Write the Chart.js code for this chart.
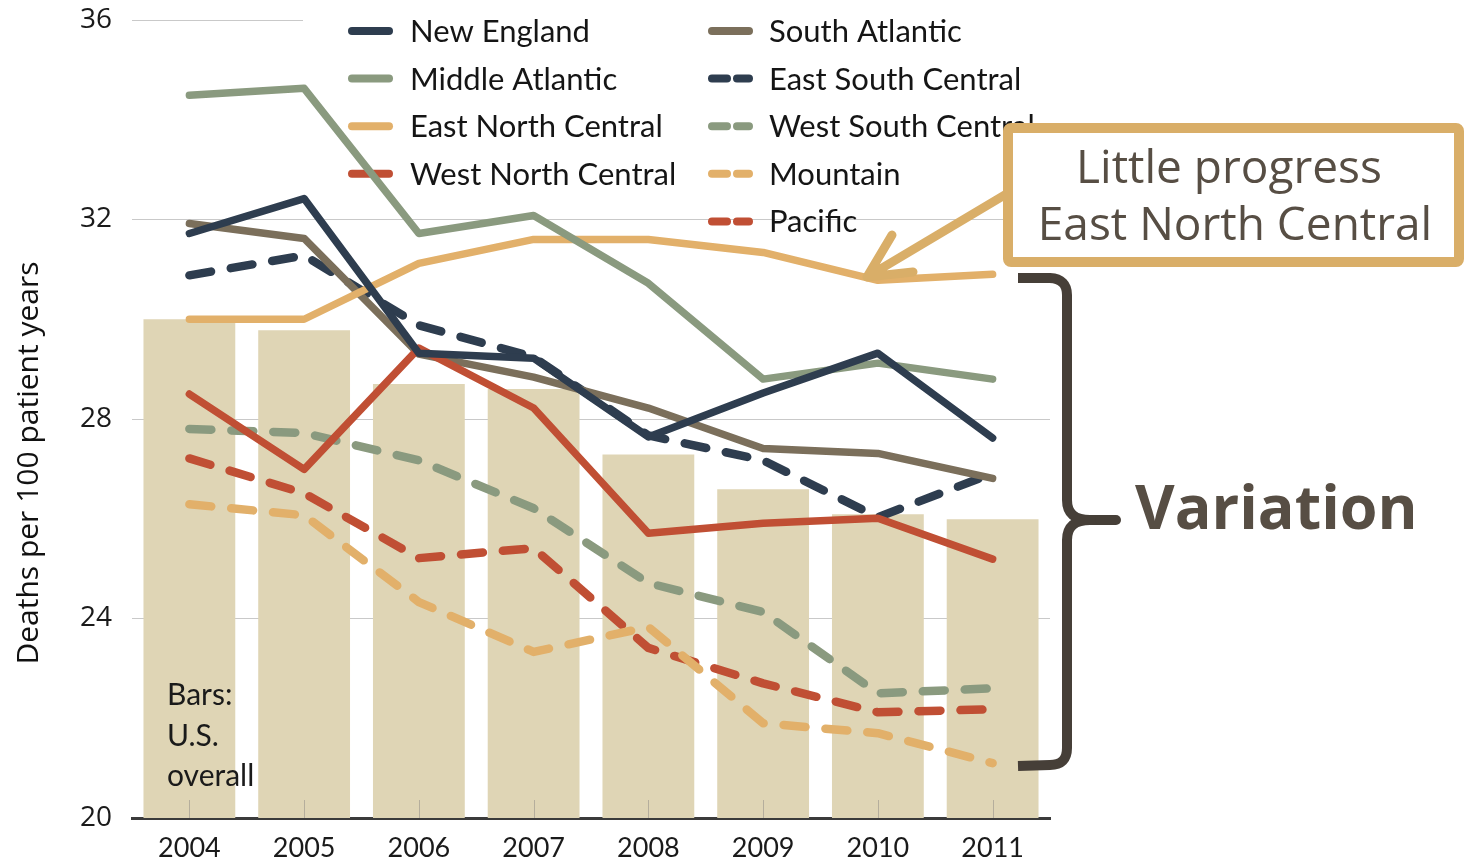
<!DOCTYPE html>
<html>
<head>
<meta charset="utf-8">
<script src="https://cdn.jsdelivr.net/npm/chart.js@4.4.1/dist/chart.umd.min.js"></script>
<style>
    html, body { margin: 0; padding: 0; background: #fff; }
    #wrap { width: 1464px; height: 862px; position: relative; }
</style>
</head>
<body>
<div id="wrap"><canvas id="chart" width="1464" height="862"></canvas></div>
<script>
const YEARS = ['2004', '2005', '2006', '2007', '2008', '2009', '2010', '2011'];
const Y_TICKS = [20, 24, 28, 32, 36];

// bars: U.S. overall
const US_OVERALL = [30.0, 29.78, 28.7, 28.6, 27.29, 26.59, 26.09, 25.99];

const NEW_ENGLAND        = [31.72, 32.42, 29.32, 29.22, 27.64, 28.52, 29.32, 27.62];
const MIDDLE_ATLANTIC    = [34.49, 34.63, 31.72, 32.08, 30.72, 28.8, 29.12, 28.8];
const EAST_NORTH_CENTRAL = [30.0, 30.0, 31.12, 31.6, 31.6, 31.34, 30.78, 30.9];
const WEST_NORTH_CENTRAL = [28.5, 26.99, 29.42, 28.22, 25.71, 25.91, 26.01, 25.19];
const SOUTH_ATLANTIC     = [31.92, 31.62, 29.3, 28.84, 28.22, 27.41, 27.31, 26.81];
const EAST_SOUTH_CENTRAL = [30.88, 31.28, 29.88, 29.24, 27.67, 27.17, 26.03, 26.91];
const WEST_SOUTH_CENTRAL = [27.8, 27.72, 27.17, 26.21, 24.71, 24.13, 22.5, 22.6];
const MOUNTAIN           = [26.29, 26.07, 24.33, 23.33, 23.83, 21.9, 21.7, 21.1];
const PACIFIC            = [27.21, 26.51, 25.21, 25.41, 23.41, 22.7, 22.12, 22.18];

const Y_TITLE = 'Deaths per 100 patient years';

const NAVY = '#2e3d4f';
const SAGE = '#8a9a7f';
const GOLD = '#e2b06a';
const RUST = '#c04f34';
const UMBER = '#7b6f5b';
const BAR_FILL = '#dfd5b5';
const NOTE_GOLD = '#d9ae68';
const NOTE_TEXT = '#574e44';
const BRACE = '#463f38';

const DASH = [22, 20];

const REGIONS = [
    { label: 'New England',        data: NEW_ENGLAND,        color: NAVY,  dashed: false },
    { label: 'Middle Atlantic',    data: MIDDLE_ATLANTIC,    color: SAGE,  dashed: false },
    { label: 'East North Central', data: EAST_NORTH_CENTRAL, color: GOLD,  dashed: false },
    { label: 'West North Central', data: WEST_NORTH_CENTRAL, color: RUST,  dashed: false },
    { label: 'South Atlantic',     data: SOUTH_ATLANTIC,     color: UMBER, dashed: false },
    { label: 'East South Central', data: EAST_SOUTH_CENTRAL, color: NAVY,  dashed: true },
    { label: 'West South Central', data: WEST_SOUTH_CENTRAL, color: SAGE,  dashed: true },
    { label: 'Mountain',           data: MOUNTAIN,           color: GOLD,  dashed: true },
    { label: 'Pacific',            data: PACIFIC,            color: RUST,  dashed: true },
];

const LEGEND_FONT = '31px Lato, "Open Sans", sans-serif';

// two-column legend on a white patch, drawn under the lines
const legendPlugin = {
    id: 'regionLegend',
    beforeDatasetsDraw(chart) {
        const ctx = chart.ctx;
        ctx.save();
        ctx.fillStyle = '#fff';
        ctx.fillRect(303, 0, 747, 200);
        ctx.font = LEGEND_FONT;
        ctx.textBaseline = 'middle';
        ctx.lineWidth = 8;
        ctx.lineCap = 'round';
        REGIONS.forEach((r, i) => {
            const col = i < 4 ? 0 : 1;
            const row = col === 0 ? i : i - 4;
            const y = 31 + row * 47.6;
            const x0 = col === 0 ? 352 : 712;
            ctx.strokeStyle = r.color;
            ctx.setLineDash(r.dashed ? [15, 10] : []);
            ctx.beginPath();
            ctx.moveTo(x0, y);
            ctx.lineTo(x0 + 37, y);
            ctx.stroke();
            ctx.fillStyle = '#151515';
            ctx.fillText(r.label, col === 0 ? 410 : 769, y + 1);
        });
        ctx.restore();
    },
};

// small category tick marks inside the bars
const tickMarks = {
    id: 'tickMarks',
    afterDatasetsDraw(chart) {
        const ctx = chart.ctx;
        const x = chart.scales.x;
        const bottom = chart.chartArea.bottom;
        ctx.save();
        ctx.strokeStyle = '#b5ae9c';
        ctx.lineWidth = 1;
        YEARS.forEach((_, i) => {
            const px = Math.round(x.getPixelForValue(i)) + 0.5;
            ctx.beginPath();
            ctx.moveTo(px, bottom - 18);
            ctx.lineTo(px, bottom);
            ctx.stroke();
        });
        ctx.restore();
    },
};

// callout box, arrow, brace and side notes
const notes = {
    id: 'notes',
    afterDraw(chart) {
        const ctx = chart.ctx;
        ctx.save();

        // y axis title, sitting a little below the middle of the axis
        ctx.save();
        ctx.translate(29, 463);
        ctx.rotate(-Math.PI / 2);
        ctx.fillStyle = '#111';
        ctx.font = '30px "Open Sans", sans-serif';
        ctx.textAlign = 'center';
        ctx.textBaseline = 'middle';
        ctx.fillText(Y_TITLE, 0, 0);
        ctx.restore();

        ctx.fillStyle = '#1a1a1a';
        ctx.font = '30px Lato, "Open Sans", sans-serif';
        ctx.textBaseline = 'alphabetic';
        ctx.fillText('Bars:', 167, 705);
        ctx.fillText('U.S.', 167, 746);
        ctx.fillText('overall', 167, 786);

        // arrow towards East North Central in 2010
        ctx.strokeStyle = NOTE_GOLD;
        ctx.lineWidth = 9;
        ctx.lineCap = 'round';
        ctx.lineJoin = 'round';
        ctx.beginPath();
        ctx.moveTo(1008, 193);
        ctx.lineTo(867, 277);
        ctx.moveTo(892, 235);
        ctx.lineTo(867, 277);
        ctx.lineTo(913, 272);
        ctx.stroke();

        // callout box
        ctx.fillStyle = '#fff';
        ctx.lineWidth = 10;
        ctx.beginPath();
        ctx.roundRect(1008, 128, 451, 134, 3);
        ctx.fill();
        ctx.stroke();

        ctx.fillStyle = NOTE_TEXT;
        ctx.textAlign = 'center';
        ctx.font = '46px "Open Sans", sans-serif';
        ctx.fillText('Little progress', 1229, 183);
        ctx.fillText('East North Central', 1235, 240);

        // brace spanning the regional spread
        ctx.strokeStyle = BRACE;
        ctx.lineWidth = 10;
        ctx.lineCap = 'butt';
        ctx.beginPath();
        ctx.moveTo(1018, 278);
        ctx.lineTo(1050, 278);
        ctx.quadraticCurveTo(1067, 279, 1067, 295);
        ctx.lineTo(1067, 500);
        ctx.quadraticCurveTo(1067, 520, 1090, 520);
        ctx.lineTo(1116, 520);
        ctx.moveTo(1090, 520);
        ctx.quadraticCurveTo(1067, 520, 1067, 540);
        ctx.lineTo(1067, 748);
        ctx.quadraticCurveTo(1067, 765, 1050, 765);
        ctx.lineTo(1018, 766);
        ctx.stroke();
        ctx.lineCap = 'round';
        ctx.beginPath();
        ctx.moveTo(1100, 520);
        ctx.lineTo(1116, 520);
        ctx.stroke();

        ctx.fillStyle = NOTE_TEXT;
        ctx.textAlign = 'left';
        ctx.font = 'bold 61px "Open Sans", sans-serif';
        ctx.fillText('Variation', 1135, 529);

        ctx.restore();
    },
};

const lineSets = REGIONS.map(r => ({
    type: 'line',
    label: r.label,
    data: r.data,
    borderColor: r.color,
    borderWidth: r.dashed ? 8.5 : 7.5,
    borderDash: r.dashed ? DASH : [],
    borderCapStyle: 'round',
    borderJoinStyle: 'round',
    pointRadius: 0,
    tension: 0,
    fill: false,
    order: 1,
}));

new Chart(document.getElementById('chart'), {
    type: 'bar',
    data: {
        labels: YEARS,
        datasets: [
            {
                type: 'bar',
                label: 'U.S. overall',
                data: US_OVERALL,
                backgroundColor: BAR_FILL,
                borderWidth: 0,
                barPercentage: 0.8,
                categoryPercentage: 1,
                order: 2,
            },
            ...lineSets,
        ],
    },
    options: {
        responsive: false,
        animation: false,
        layout: { padding: { top: 20, right: 414, left: 0, bottom: 0 } },
        plugins: {
            legend: { display: false },
            tooltip: { enabled: false },
        },
        scales: {
            x: {
                offset: true,
                grid: { display: false, drawTicks: false },
                border: { display: true, color: '#3b3b3b', width: 3 },
                ticks: {
                    font: { family: 'Lato', size: 27 },
                    color: '#1a1a1a',
                    padding: 14,
                },
                afterFit(scale) { scale.height = 44; },
            },
            y: {
                min: 20,
                max: 36,
                afterBuildTicks(scale) { scale.ticks = Y_TICKS.map(v => ({ value: v })); },
                grid: { color: '#c9c9c9', lineWidth: 1, drawTicks: false },
                border: { display: false },
                ticks: {
                    font: { family: 'Open Sans', size: 28 },
                    color: '#1a1a1a',
                    padding: 20,
                },
                afterFit(scale) {
                    scale.width = 132;
                    scale.paddingTop = 0;
                    scale.paddingBottom = 0;
                },
            },
        },
    },
    plugins: [legendPlugin, tickMarks, notes],
});
</script>
</body>
</html>
